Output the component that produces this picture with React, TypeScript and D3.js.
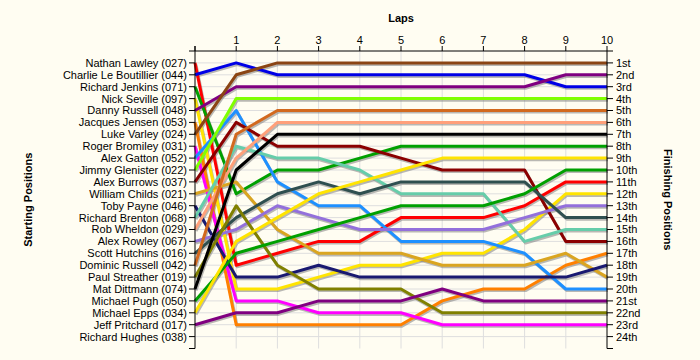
import React from "react";
import * as d3 from "d3";

const laps = [0, 1, 2, 3, 4, 5, 6, 7, 8, 9, 10];
const lapTickLabels = ["1", "2", "3", "4", "5", "6", "7", "8", "9", "10"];

const drivers = [
  "Nathan Lawley (027)",
  "Charlie Le Boutillier (044)",
  "Richard Jenkins (071)",
  "Nick Seville (097)",
  "Danny Russell (048)",
  "Jacques Jensen (053)",
  "Luke Varley (024)",
  "Roger Bromiley (031)",
  "Alex Gatton (052)",
  "Jimmy Glenister (022)",
  "Alex Burrows (037)",
  "William Childs (021)",
  "Toby Payne (046)",
  "Richard Brenton (068)",
  "Rob Wheldon (029)",
  "Alex Rowley (067)",
  "Scott Hutchins (016)",
  "Dominic Russell (042)",
  "Paul Streather (019)",
  "Mat Dittmann (074)",
  "Michael Pugh (050)",
  "Michael Epps (034)",
  "Jeff Pritchard (017)",
  "Richard Hughes (038)",
];

const finishLabels = [
  "1st", "2nd", "3rd", "4th", "5th", "6th", "7th", "8th", "9th", "10th",
  "11th", "12th", "13th", "14th", "15th", "16th", "17th", "18th", "19th", "20th",
  "21st", "22nd", "23rd", "24th",
];

// position of each driver at lap 0..10 (empty = no laps recorded)
const positions: number[][] = [
  [1, 18, 17, 16, 16, 14, 14, 14, 13, 11, 11],
  [2, 1, 2, 2, 2, 2, 2, 2, 2, 3, 3],
  [3, 12, 10, 10, 9, 8, 8, 8, 8, 8, 8],
  [4, 20, 20, 19, 18, 18, 17, 17, 15, 12, 12],
  [5, 3, 3, 3, 3, 3, 3, 3, 3, 2, 2],
  [6, 23, 23, 23, 23, 23, 21, 20, 20, 18, 17],
  [7, 2, 1, 1, 1, 1, 1, 1, 1, 1, 1],
  [8, 21, 21, 22, 22, 22, 23, 23, 23, 23, 23],
  [9, 5, 11, 13, 13, 16, 16, 16, 17, 20, 20],
  [10, 4, 4, 4, 4, 4, 4, 4, 4, 4, 4],
  [11, 6, 8, 8, 8, 9, 10, 10, 10, 16, 16],
  [12, 11, 15, 17, 17, 17, 18, 18, 18, 17, 19],
  [13, 19, 19, 18, 19, 19, 19, 19, 19, 19, 18],
  [14, 8, 9, 9, 10, 12, 12, 12, 16, 15, 15],
  [15, 9, 6, 6, 6, 6, 6, 6, 6, 6, 6],
  [16, 15, 13, 14, 15, 15, 15, 15, 14, 13, 13],
  [17, 14, 12, 11, 12, 11, 11, 11, 11, 14, 14],
  [18, 7, 5, 5, 5, 5, 5, 5, 5, 5, 5],
  [19, 13, 18, 20, 20, 20, 22, 22, 22, 22, 22],
  [20, 10, 7, 7, 7, 7, 7, 7, 7, 7, 7],
  [21, 17, 16, 15, 14, 13, 13, 13, 12, 10, 10],
  [22, 16, 14, 12, 11, 10, 9, 9, 9, 9, 9],
  [23, 22, 22, 21, 21, 21, 20, 21, 21, 21, 21],
  [],
];

const colors = [
  "#ff0000", "#0000e6", "#00a000", "#ffe400", "#800080", "#ff8000",
  "#8b4513", "#ff00ff", "#1e90ff", "#80ff00", "#8b0000", "#daa520",
  "#191970", "#66cdaa", "#ffa07a", "#9370db", "#2f4f4f", "#d2691e",
  "#808000", "#000000", "#00a000", "#ffe400", "#800080", "#888888",
];

const W = 700;
const H = 360;
const FONT = "'Liberation Sans', Arial, sans-serif";

export default function App() {
  const x = d3.scaleLinear().domain([0, 10]).range([195, 607]);
  const y = d3.scaleLinear().domain([0, 25]).range([51, 348.5]);
  const line = d3
    .line<number>()
    .x((_, i) => x(laps[i]))
    .y((d) => y(d));

  const rows = d3.range(1, 25);
  const yTicks = d3.range(0, 26);
  const [x0, x1] = x.range();
  const [y0, y1] = y.range();

  return (
    <svg
      width={W}
      height={H}
      style={{ position: "absolute", left: 0, top: 0, display: "block" }}
      fontFamily={FONT}
    >
      <rect x={0} y={0} width={W} height={H} fill="#fffdf2" />
      {/* grid */}
      {rows.map((r) => (
        <line key={"h" + r} x1={x0} x2={x1} y1={y(r)} y2={y(r)} stroke="#dedede" strokeWidth={1} />
      ))}
      {laps.slice(1, 10).map((l) => (
        <line key={"v" + l} x1={x(l)} x2={x(l)} y1={y0} y2={y1} stroke="#dedede" strokeWidth={1} />
      ))}
      {/* shadows */}
      {positions.map((p, i) =>
        p.length ? (
          <path
            key={"s" + i}
            d={line(p) || ""}
            transform="translate(1,1.6)"
            fill="none"
            stroke="#808080"
            strokeOpacity={0.55}
            strokeWidth={3}
            strokeLinejoin="round"
          />
        ) : null
      )}
      {/* lines */}
      {positions.map((p, i) =>
        p.length ? (
          <path
            key={"l" + i}
            d={line(p) || ""}
            fill="none"
            stroke={colors[i]}
            strokeWidth={3}
            strokeLinejoin="round"
          />
        ) : null
      )}
      {/* axes */}
      <line x1={x0} x2={x1} y1={y0} y2={y0} stroke="#000" strokeWidth={1} />
      <line x1={x0} x2={x0} y1={y0 - 5} y2={y1} stroke="#000" strokeWidth={1} />
      <line x1={x1} x2={x1} y1={y0} y2={y1} stroke="#000" strokeWidth={1} />
      {laps.map((l) => (
        <line key={"tt" + l} x1={x(l)} x2={x(l)} y1={y0 - 5} y2={y0} stroke="#000" />
      ))}
      {lapTickLabels.map((t, i) => (
        <text key={"tl" + i} x={x(i + 1)} y={44} fontSize={11} textAnchor="middle" fill="#000">
          {t}
        </text>
      ))}
      {yTicks.map((t) => (
        <g key={"yt" + t}>
          <line x1={x0 - 6} x2={x0} y1={y(t)} y2={y(t)} stroke="#000" />
          <line x1={x1} x2={x1 + 6} y1={y(t)} y2={y(t)} stroke="#000" />
        </g>
      ))}
      {drivers.map((d, i) => (
        <text key={"dl" + i} x={x0 - 8} y={y(i + 1)} dy="0.36em" fontSize={11} textAnchor="end" fill="#000">
          {d}
        </text>
      ))}
      {finishLabels.map((d, i) => (
        <text key={"fl" + i} x={x1 + 9} y={y(i + 1)} dy="0.36em" fontSize={11} textAnchor="start" fill="#000">
          {d}
        </text>
      ))}
      <text x={(x0 + x1) / 2} y={22} fontSize={11} fontWeight="bold" textAnchor="middle">
        Laps
      </text>
      <text
        transform={`translate(32, ${(y0 + y1) / 2}) rotate(-90)`}
        fontSize={11}
        fontWeight="bold"
        textAnchor="middle"
      >
        Starting Positions
      </text>
      <text
        transform={`translate(664, ${(y0 + y1) / 2}) rotate(90)`}
        fontSize={11}
        fontWeight="bold"
        textAnchor="middle"
      >
        Finishing Positions
      </text>
    </svg>
  );
}
